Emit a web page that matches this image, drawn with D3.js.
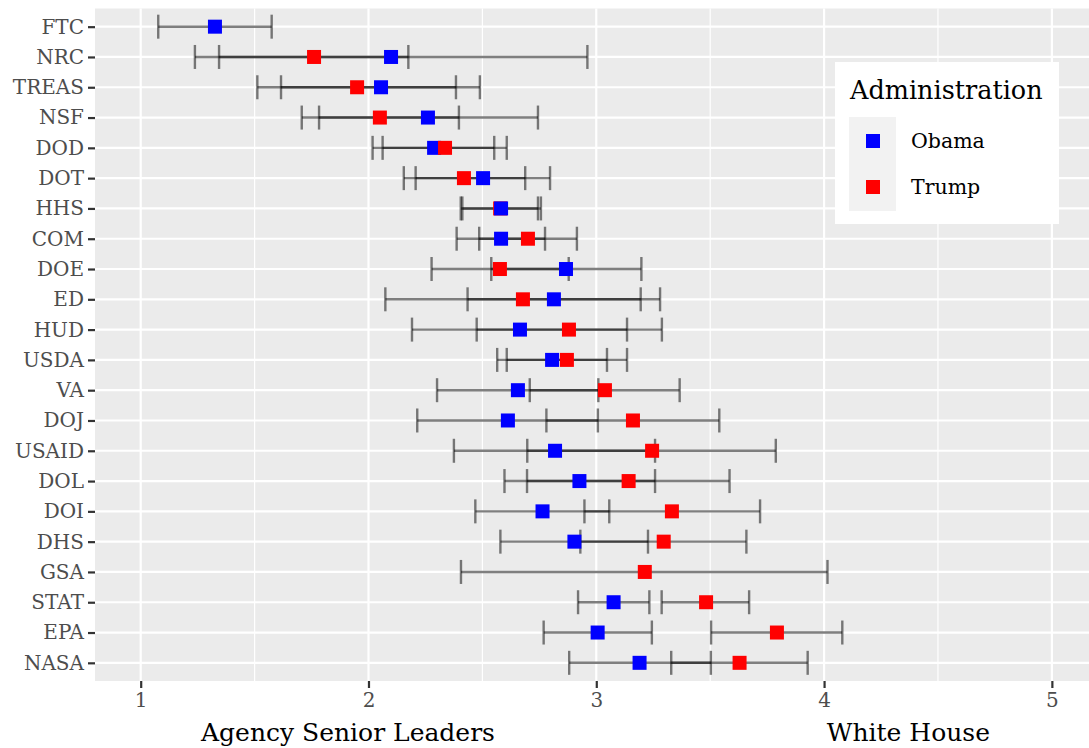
<!DOCTYPE html>
<html>
<head>
<meta charset="utf-8">
<script src="https://cdn.jsdelivr.net/npm/d3@7"></script>
<style>
  body { margin: 0; background: #fff; }
  svg text { font-family: "DejaVu Serif", "Liberation Serif", serif; }
</style>
</head>
<body>
<div id="chart"></div>
<script>
// agencies, top to bottom
var agencies = ["FTC","NRC","TREAS","NSF","DOD","DOT","HHS","COM","DOE","ED","HUD","USDA","VA","DOJ","USAID","DOL","DOI","DHS","GSA","STAT","EPA","NASA"];

// Obama administration: mean and confidence interval
var obamaMean = [1.326, 2.099, 2.055, 2.261, 2.288, 2.503, 2.582, 2.582, 2.867, 2.814, 2.665, 2.806, 2.656, 2.612, 2.819, 2.926, 2.764, 2.904, null, 3.076, 3.006, 3.190];
var obamaLo   = [1.077, 1.238, 1.616, 1.783, 2.018, 2.207, 2.405, 2.387, 2.539, 2.435, 2.191, 2.565, 2.301, 2.214, 2.375, 2.597, 2.469, 2.579, null, 2.920, 2.769, 2.881];
var obamaHi   = [1.575, 2.961, 2.489, 2.744, 2.552, 2.797, 2.757, 2.775, 3.198, 3.195, 3.135, 3.047, 3.009, 3.007, 3.258, 3.258, 3.057, 3.227, null, 3.233, 3.244, 3.503];

// Trump administration
var trumpMean = [null, 1.761, 1.950, 2.050, 2.336, 2.419, 2.578, 2.700, 2.577, 2.678, 2.880, 2.871, 3.038, 3.161, 3.245, 3.142, 3.332, 3.296, 3.213, 3.482, 3.793, 3.629];
var trumpLo   = [null, 1.344, 1.512, 1.707, 2.062, 2.155, 2.412, 2.486, 2.277, 2.074, 2.475, 2.607, 2.708, 2.781, 2.697, 2.696, 2.948, 2.930, 2.406, 3.287, 3.504, 3.329];
var trumpHi   = [null, 2.175, 2.384, 2.397, 2.607, 2.688, 2.744, 2.915, 2.879, 3.280, 3.288, 3.135, 3.366, 3.540, 3.788, 3.585, 3.719, 3.659, 4.015, 3.671, 4.080, 3.928];

var xTicks = [1, 2, 3, 4, 5];
var xMinor = [1.5, 2.5, 3.5, 4.5];
var admins = ["Obama", "Trump"];
var adminColors = ["#0000ff", "#ff0000"];
var obamaOnTop = ["HHS"]; // where the blue point covers the red one

var W = 1089, H = 748;
var panel = {left: 95, right: 1089, top: 8.5, bottom: 681};

var svg = d3.select("#chart").append("svg")
	.attr("width", W).attr("height", H);

var x = d3.scaleLinear().domain([0.7994, 5.163]).range([panel.left, panel.right]);
var y = d3.scalePoint().domain(agencies).range([panel.top, panel.bottom]).padding(0.6);
var color = d3.scaleOrdinal().domain(admins).range(adminColors);

// panel background + grid
svg.append("rect")
	.attr("x", panel.left).attr("y", panel.top)
	.attr("width", panel.right - panel.left).attr("height", panel.bottom - panel.top)
	.attr("fill", "#ebebeb");

svg.selectAll(".minor").data(xMinor).enter().append("line")
	.attr("x1", function(d){ return x(d); }).attr("x2", function(d){ return x(d); })
	.attr("y1", panel.top).attr("y2", panel.bottom)
	.attr("stroke", "#fff").attr("stroke-width", 1.2);

svg.selectAll(".majorX").data(xTicks).enter().append("line")
	.attr("x1", function(d){ return x(d); }).attr("x2", function(d){ return x(d); })
	.attr("y1", panel.top).attr("y2", panel.bottom)
	.attr("stroke", "#fff").attr("stroke-width", 2.2);

svg.selectAll(".majorY").data(agencies).enter().append("line")
	.attr("x1", panel.left).attr("x2", panel.right)
	.attr("y1", function(d){ return y(d); }).attr("y2", function(d){ return y(d); })
	.attr("stroke", "#fff").attr("stroke-width", 2.2);

// build records
var records = [];
agencies.forEach(function(a, i){
	var ob = obamaMean[i] == null ? null : {agency: a, admin: "Obama", mean: obamaMean[i], lo: obamaLo[i], hi: obamaHi[i]};
	var tr = trumpMean[i] == null ? null : {agency: a, admin: "Trump", mean: trumpMean[i], lo: trumpLo[i], hi: trumpHi[i]};
	var pair = obamaOnTop.indexOf(a) >= 0 ? [tr, ob] : [ob, tr];
	pair.forEach(function(r){ if (r) records.push(r); });
});

// error bars
var capH = 12;
var eb = svg.append("g").attr("class", "errorbars");
records.forEach(function(d){
	var g = eb.append("g").attr("stroke", "#000").attr("stroke-opacity", 0.5).attr("stroke-width", 2.4);
	var yy = y(d.agency);
	g.append("line").attr("x1", x(d.lo)).attr("x2", x(d.hi)).attr("y1", yy).attr("y2", yy);
	g.append("line").attr("x1", x(d.lo)).attr("x2", x(d.lo)).attr("y1", yy - capH).attr("y2", yy + capH);
	g.append("line").attr("x1", x(d.hi)).attr("x2", x(d.hi)).attr("y1", yy - capH).attr("y2", yy + capH);
});

// points
var ps = 14;
svg.selectAll(".pt").data(records).enter().append("rect")
	.attr("class", "pt")
	.attr("x", function(d){ return x(d.mean) - ps / 2; })
	.attr("y", function(d){ return y(d.agency) - ps / 2; })
	.attr("width", ps).attr("height", ps)
	.attr("fill", function(d){ return color(d.admin); });

// axes
var yAxis = svg.append("g").attr("transform", "translate(" + panel.left + ",0)")
	.call(d3.axisLeft(y).tickSize(7).tickPadding(4));
yAxis.select(".domain").remove();
yAxis.selectAll(".tick line").attr("stroke", "#333").attr("stroke-width", 2.2);
yAxis.selectAll(".tick text").attr("fill", "#4d4d4d").style("font-size", "20px");

var xAxis = svg.append("g").attr("transform", "translate(0," + panel.bottom + ")")
	.call(d3.axisBottom(x).tickValues(xTicks).tickFormat(d3.format("d")).tickSize(7).tickPadding(5));
xAxis.select(".domain").remove();
xAxis.selectAll(".tick line").attr("stroke", "#333").attr("stroke-width", 2.2);
xAxis.selectAll(".tick text").attr("fill", "#4d4d4d").style("font-size", "20px");

// axis titles
svg.append("text").attr("x", x(1.91)).attr("y", 741).attr("text-anchor", "middle")
	.style("font-size", "25px").attr("fill", "#000").text("Agency Senior Leaders");
svg.append("text").attr("x", x(4.37)).attr("y", 741).attr("text-anchor", "middle")
	.style("font-size", "25px").attr("fill", "#000").text("White House");

// legend
var lg = svg.append("g").attr("transform", "translate(835,62)");
lg.append("rect").attr("width", 224).attr("height", 162).attr("fill", "#fff");
lg.append("text").attr("x", 15).attr("y", 37).style("font-size", "25.5px").attr("fill", "#000").text("Administration");
lg.append("rect").attr("x", 14).attr("y", 55).attr("width", 47).attr("height", 94).attr("fill", "#f2f2f2");
lg.selectAll(".key").data(admins).enter().append("rect")
	.attr("x", 38 - ps / 2).attr("y", function(d, i){ return 79 + i * 46 - ps / 2; })
	.attr("width", ps).attr("height", ps)
	.attr("fill", function(d){ return color(d); });
lg.selectAll(".lab").data(admins).enter().append("text")
	.attr("x", 76).attr("y", function(d, i){ return 79 + i * 46; })
	.attr("dy", "0.35em").style("font-size", "20.5px").attr("fill", "#000")
	.text(function(d){ return d; });
</script>
</body>
</html>
